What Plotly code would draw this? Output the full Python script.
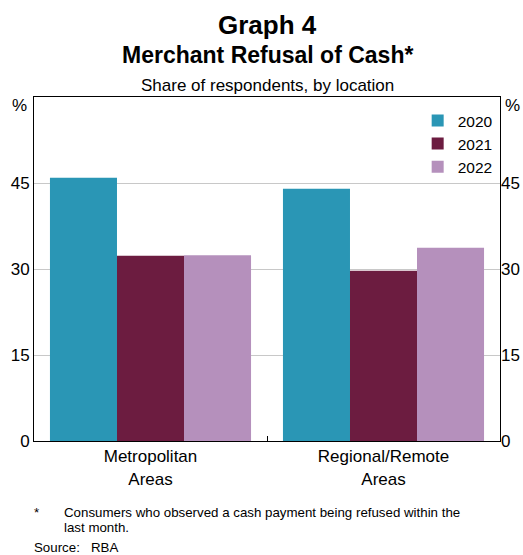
import plotly.graph_objects as go

# Dades llegides del gràfic
locations = ["Metropolitan<br>Areas", "Regional/Remote<br>Areas"]
years = ["2020", "2021", "2022"]
share_2020 = [45.9, 44.0]
share_2021 = [32.3, 29.7]
share_2022 = [32.4, 33.7]
y_ticks = [0, 15, 30, 45]

colors = {"2020": "#2a96b5", "2021": "#6c1c40", "2022": "#b590bc"}
series = {"2020": share_2020, "2021": share_2021, "2022": share_2022}

FONT = "Liberation Sans, Arial, sans-serif"

W, H = 523, 555
L, R, T, B = 34, 23, 97, 114
plot_w = W - L - R
plot_h = H - T - B


def paper(xw, yw):
    """Converteix píxels de la pàgina a coordenades 'paper'."""
    return (xw - L) / plot_w, (H - B - yw) / plot_h


fig = go.Figure()
for yr in years:
    fig.add_trace(go.Bar(
        x=locations, y=series[yr], name=yr,
        marker=dict(color=colors[yr], line=dict(width=0)),
    ))

# traça invisible per fer aparèixer l'eix dret
fig.add_trace(go.Scatter(x=locations, y=[0, 0], yaxis="y2", mode="markers",
                         marker=dict(opacity=0), showlegend=False, hoverinfo="skip"))

fig.update_layout(
    width=W, height=H,
    margin=dict(l=L, r=R, t=T, b=B, autoexpand=False),
    paper_bgcolor="white", plot_bgcolor="white",
    font=dict(family=FONT, color="black", size=17),
    barmode="group", bargap=0.137, bargroupgap=0,
    showlegend=True,
    legend=dict(x=0.995, y=0.98, xanchor="right", yanchor="top",
                font=dict(size=15.5), bgcolor="rgba(0,0,0,0)",
                itemwidth=30, tracegroupgap=0),
    xaxis=dict(showline=True, linecolor="black", linewidth=1, mirror=True,
               ticks="inside", tickson="boundaries", ticklen=5, tickcolor="black",
               tickfont=dict(size=17), showgrid=False),
    yaxis=dict(range=[0, 60], tickvals=y_ticks, showgrid=True, gridcolor="#c8c8c8",
               gridwidth=1, showline=True, linecolor="black", linewidth=1,
               mirror=True, ticks="", tickfont=dict(size=17), zeroline=False),
    yaxis2=dict(range=[0, 60], tickvals=y_ticks, overlaying="y", side="right",
                showgrid=False, showline=False, ticks="", tickfont=dict(size=17),
                zeroline=False),
)

# títols
titles = [
    ("<b>Graph 4</b>", 25, 26),
    ("<b>Merchant Refusal of Cash*</b>", 55, 23),
    ("Share of respondents, by location", 86, 17),
]
for txt, yw, size in titles:
    px_, py_ = paper(267, yw)
    fig.add_annotation(text=txt, xref="paper", yref="paper", x=px_, y=py_,
                       xanchor="center", yanchor="middle", showarrow=False,
                       font=dict(size=size))

# etiquetes "%" a dalt de cada eix
px_, py_ = paper(29, 105)
fig.add_annotation(text="%", xref="paper", yref="paper", x=px_, y=py_,
                   xanchor="right", yanchor="middle", showarrow=False, font=dict(size=17))
px_, py_ = paper(503, 105)
fig.add_annotation(text="%", xref="paper", yref="paper", x=px_, y=py_,
                   xanchor="left", yanchor="middle", showarrow=False, font=dict(size=17))

# notes al peu
notes = [
    ("*", 32, 512),
    ("Consumers who observed a cash payment being refused within the", 62, 512),
    ("last month.", 62, 527),
    ("Source:   RBA", 32, 547),
]
for txt, xw, yw in notes:
    px_, py_ = paper(xw, yw)
    fig.add_annotation(text=txt, xref="paper", yref="paper", x=px_, y=py_,
                       xanchor="left", yanchor="middle", showarrow=False,
                       font=dict(size=13.3))

# sense marge al body perquè la figura ocupi exactament la finestra
fig.write_html(
    "out.html",
    config={"displayModeBar": False},
    post_script="document.body.style.margin='0';document.body.style.overflow='hidden';",
)
